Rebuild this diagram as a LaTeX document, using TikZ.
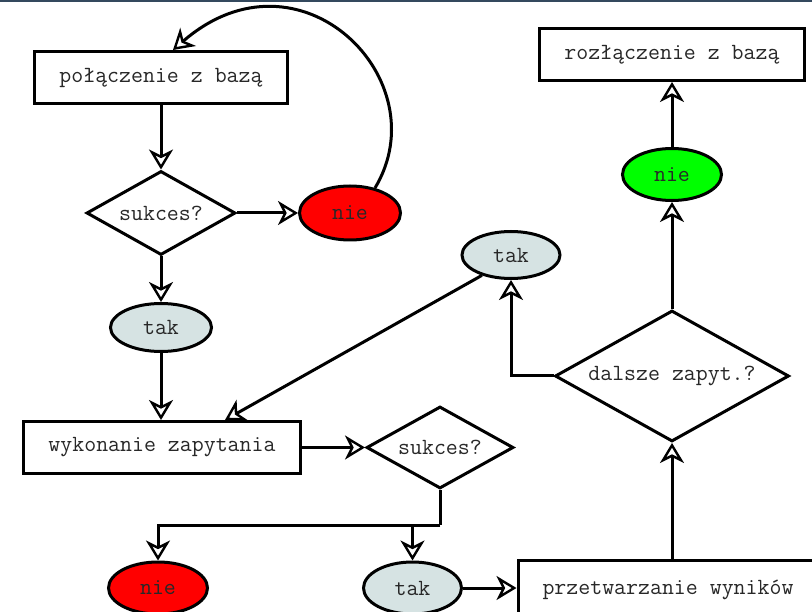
\documentclass[tikz,border=0pt]{standalone}
\usepackage{fontspec}
\usetikzlibrary{shapes.geometric,arrows.meta,calc}
\definecolor{txt}{RGB}{40,40,40}
\definecolor{takfill}{RGB}{214,227,227}
\definecolor{topbar}{RGB}{52,73,94}
\begin{document}
\begin{tikzpicture}[x=1pt,y=-1pt,
 every node/.style={font=\fontsize{23.2}{26}\selectfont\ttfamily, text=txt},
 base/.style={draw=black, line width=3pt},
 box/.style={base, rectangle, inner sep=0pt, fill=white},
 dec/.style={base, diamond, inner sep=0pt, aspect=1.8, fill=white},
 oval/.style={base, ellipse, inner sep=0pt},
 arr/.style={line width=3pt, -{Stealth[open, length=20pt, width=24pt, inset=6pt, line width=2.4pt]}},
 ln/.style={line width=3pt}
]
\useasboundingbox (0,0) rectangle (812,612);
\clip (0,0) rectangle (812,612);
\fill[white] (0,0) rectangle (812,612);
\fill[topbar] (0,0) rectangle (812,2);

\node[box, minimum width=253pt, minimum height=52pt] (box1) at (161,77.5) {połączenie z bazą\hspace{0.525em}};
\node[dec, minimum width=149pt, minimum height=84pt] (d1) at (161,213) {sukces?};
\node[oval, fill=red, minimum width=101pt, minimum height=54pt] (nie1) at (350,213) {nie};
\node[oval, fill=takfill, minimum width=101pt, minimum height=48pt] (tak1) at (161,327.5) {tak};
\node[box, minimum width=277pt, minimum height=52pt] (box2) at (162,447.5) {wykonanie zapytania\hspace{0.525em}};
\node[dec, minimum width=147pt, minimum height=82pt] (d2) at (440,447.5) {sukces?};
\node[oval, fill=red, minimum width=99pt, minimum height=52pt] (nie2) at (158,588) {nie};
\node[oval, fill=takfill, minimum width=98pt, minimum height=52pt] (tak2) at (412.5,588) {tak};
\node[box, minimum width=300pt, minimum height=60pt] (box3) at (668,590) {przetwarzanie wyników\hspace{0.525em}};
\node[dec, minimum width=234pt, minimum height=131pt] (d3) at (672,376) {dalsze zapyt.?};
\node[oval, fill=takfill, minimum width=98pt, minimum height=47pt] (tak3) at (511,255) {tak};
\node[oval, fill=green, minimum width=99pt, minimum height=52pt] (green) at (672,174.5) {nie};
\node[box, minimum width=265pt, minimum height=52pt] (box4) at (672,54.5) {rozłączenie z bazą\hspace{0.525em}};

\draw[arr] (box1.south -| d1.north) -- (d1.north);
\draw[arr] (d1.east) -- (nie1.west);
\draw[arr] (nie1.45) .. controls (440,80) and (300,-60) .. ([xshift=12pt]box1.north);
\draw[arr] (d1.south) -- (tak1.north);
\draw[arr] (tak1.south) -- (tak1.south |- box2.north);
\draw[arr] (tak3.215) -- ([xshift=63pt]box2.north);
\draw[arr] (box2.east) -- (d2.west);
\coordinate (j) at ($(d2.south)+(0,35)$);
\draw[ln] (d2.south) -- (j);
\draw[arr] (j) -| (nie2.north);
\draw[arr] (j) -| (tak2.north);
\draw[arr] (tak2.east) -- (tak2.east -| box3.west);
\draw[arr] (d3.south |- box3.north) -- (d3.south);
\draw[arr] (d3.north) -- (green.south);
\draw[arr] (green.north) -- (box4.south);
\draw[arr] (d3.west) -| (tak3.south);
\end{tikzpicture}
\end{document}
